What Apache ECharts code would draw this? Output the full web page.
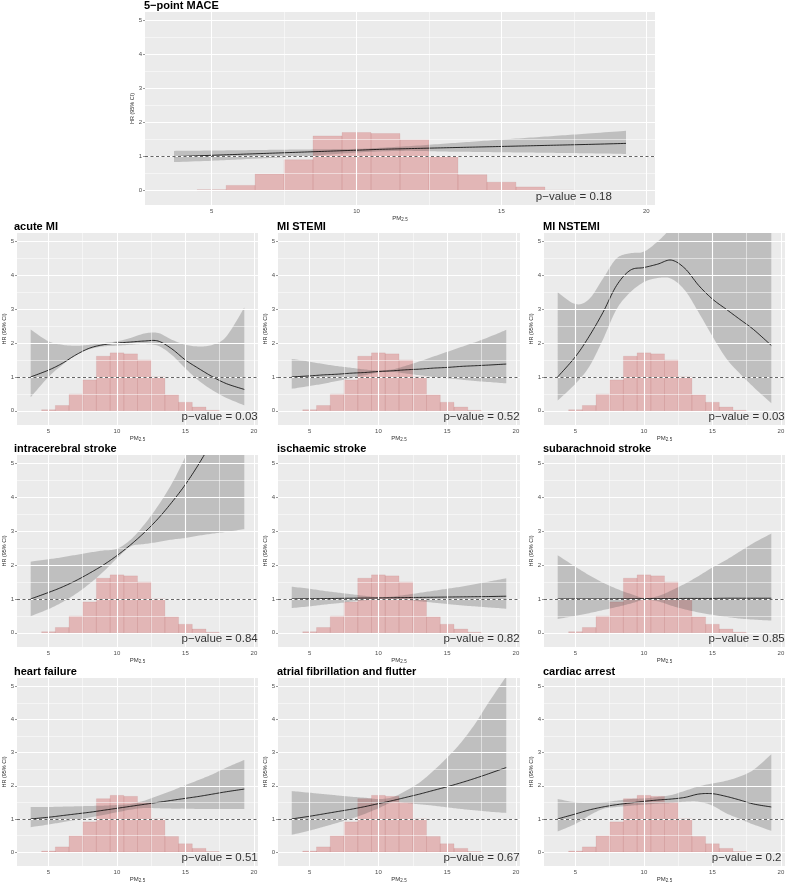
<!DOCTYPE html>
<html><head><meta charset="utf-8">
<script src="https://cdn.jsdelivr.net/npm/echarts@6/dist/echarts.min.js"></script>
<style>html,body{margin:0;padding:0;background:#fff}#c{width:788px;height:884px}</style>
</head><body><div id="c"></div>
<script>
// ---------- data ----------
const titles = ['5\u2212point MACE','acute MI','MI STEMI','MI NSTEMI','intracerebral stroke','ischaemic stroke','subarachnoid stroke','heart failure','atrial fibrillation and flutter','cardiac arrest'];
const pValues = ['0.18','0.03','0.52','0.03','0.84','0.82','0.85','0.51','0.67','0.2'];
const xTicks = [5,10,15,20];
const xMinor = [7.5,12.5,17.5];
const yTicks = [0,1,2,3,4,5];
const yMinor = [0.5,1.5,2.5,3.5,4.5];
const pm25 = [3.7,5,6,7,8,9,10,11,12,13,14,15,16,17,18,19.3];
const histBins = [5,6,7,8,9,10,11,12,13,14,15,16,17];
const histHeights = [0.03,0.155,0.49,0.91,1.61,1.71,1.68,1.5,1.0,0.47,0.25,0.11,0.015];

const maceFit   = [1.0,1.04,1.07,1.1,1.13,1.16,1.19,1.22,1.24,1.26,1.28,1.3,1.32,1.34,1.36,1.39];
const maceLower = [0.84,0.88,0.92,0.96,1.0,1.06,1.12,1.16,1.17,1.15,1.14,1.13,1.12,1.11,1.1,1.08];
const maceUpper = [1.17,1.18,1.19,1.2,1.21,1.22,1.23,1.27,1.32,1.38,1.44,1.5,1.56,1.62,1.68,1.76];

const acuteFit   = [1.0,1.2,1.4,1.65,1.85,1.95,2.0,2.03,2.06,2.06,1.83,1.5,1.24,1.0,0.8,0.63];
const acuteLower = [0.4,1.0,1.35,1.65,1.82,1.9,1.92,1.95,1.97,1.92,1.65,1.25,0.88,0.6,0.38,0.16];
const acuteUpper = [2.4,2.05,1.95,1.92,1.95,2.0,2.05,2.15,2.28,2.3,2.1,1.95,1.9,1.95,2.2,3.05];

const stemiFit   = [1.0,1.03,1.06,1.08,1.11,1.13,1.16,1.18,1.21,1.23,1.26,1.28,1.31,1.33,1.35,1.38];
const stemiLower = [0.65,0.73,0.8,0.88,0.96,1.05,1.13,1.15,1.1,1.05,1.0,0.96,0.92,0.88,0.85,0.81];
const stemiUpper = [1.53,1.45,1.38,1.32,1.27,1.22,1.19,1.22,1.33,1.46,1.6,1.74,1.88,2.02,2.17,2.39];

const nstemiFit   = [1.0,1.6,2.2,2.9,3.7,4.15,4.23,4.33,4.45,4.2,3.7,3.3,3.0,2.7,2.4,1.93];
const nstemiLower = [0.3,0.8,1.3,2.1,3.0,3.5,3.8,3.92,3.9,3.55,2.9,2.2,1.55,1.1,0.7,0.22];
const nstemiUpper = [3.5,3.15,3.3,3.9,4.5,4.65,4.7,5.0,5.4,5.8,6.2,6.6,7.0,7.5,8.0,9.0];

const icFit   = [1.0,1.19,1.35,1.54,1.76,2.0,2.28,2.6,2.96,3.37,3.85,4.38,5.0,5.7,6.5,7.7];
const icLower = [0.49,0.7,0.9,1.15,1.45,1.8,2.2,2.55,2.62,2.68,2.75,2.8,2.87,2.93,2.98,3.06];
const icUpper = [2.1,2.17,2.23,2.3,2.37,2.43,2.48,2.75,3.2,3.75,4.4,5.2,6.1,7.2,8.5,10.0];

const isFit   = [1.0,1.005,1.01,1.015,1.02,1.025,1.03,1.035,1.04,1.045,1.05,1.055,1.06,1.065,1.07,1.08];
const isLower = [0.73,0.78,0.83,0.87,0.92,0.96,1.0,1.0,0.97,0.93,0.89,0.85,0.81,0.78,0.75,0.71];
const isUpper = [1.36,1.3,1.24,1.19,1.14,1.09,1.05,1.07,1.12,1.18,1.24,1.3,1.36,1.43,1.51,1.61];

const sahFit   = [1.0,1.0,1.0,1.0,1.005,1.005,1.01,1.01,1.01,1.015,1.015,1.015,1.02,1.02,1.02,1.02];
const sahLower = [0.41,0.5,0.58,0.67,0.76,0.86,0.97,0.93,0.8,0.69,0.6,0.53,0.47,0.42,0.39,0.36];
const sahUpper = [2.29,1.95,1.7,1.48,1.3,1.15,1.03,1.08,1.25,1.45,1.68,1.93,2.15,2.4,2.65,2.93];

const hfFit   = [1.0,1.05,1.1,1.15,1.2,1.26,1.32,1.38,1.44,1.5,1.56,1.62,1.68,1.75,1.82,1.9];
const hfLower = [0.75,0.83,0.9,0.97,1.04,1.12,1.2,1.28,1.33,1.32,1.31,1.31,1.3,1.3,1.3,1.3];
const hfUpper = [1.36,1.36,1.37,1.38,1.39,1.4,1.42,1.45,1.55,1.7,1.85,2.02,2.18,2.35,2.55,2.78];

const afFit   = [1.0,1.08,1.15,1.22,1.29,1.37,1.46,1.55,1.65,1.75,1.86,1.97,2.09,2.22,2.36,2.55];
const afLower = [0.52,0.65,0.76,0.88,1.0,1.15,1.32,1.5,1.48,1.44,1.4,1.35,1.3,1.26,1.22,1.18];
const afUpper = [1.84,1.79,1.75,1.71,1.67,1.64,1.6,1.65,1.85,2.1,2.45,2.85,3.3,3.85,4.5,5.3];

const caFit   = [1.0,1.15,1.27,1.36,1.43,1.48,1.53,1.57,1.6,1.65,1.75,1.76,1.68,1.57,1.45,1.36];
const caLower = [0.62,0.85,1.1,1.3,1.36,1.4,1.43,1.46,1.48,1.52,1.52,1.4,1.17,1.0,0.83,0.64];
const caUpper = [1.6,1.5,1.48,1.5,1.55,1.6,1.62,1.66,1.72,1.85,1.98,2.07,2.15,2.28,2.48,2.95];

// ---------- layout ----------
const FONT = '"Liberation Sans", Arial, Helvetica, sans-serif';
const X_MIN = 2.7, X_MAX = 20.3, Y_MIN = -0.42, Y_MAX = 5.25;
const PV_X = 17.5, PV_Y = -0.17;
const BIN_W = 1;
const SUB = 10;
const rowTops = [233, 455, 678];
const colLefts = [15, 278, 544];
const colWidths = [243, 242, 241];
const PH = 192;

const fits = [maceFit, acuteFit, stemiFit, nstemiFit, icFit, isFit, sahFit, hfFit, afFit, caFit];
const lowers = [maceLower, acuteLower, stemiLower, nstemiLower, icLower, isLower, sahLower, hfLower, afLower, caLower];
const uppers = [maceUpper, acuteUpper, stemiUpper, nstemiUpper, icUpper, isUpper, sahUpper, hfUpper, afUpper, caUpper];

// smooth (Catmull-Rom) path through pixel points produced by the axes
function spline(pts) {
  const out = [];
  const n = pts.length;
  for (let i = 0; i < n - 1; i++) {
    const p0 = pts[Math.max(i - 1, 0)], p1 = pts[i], p2 = pts[i + 1], p3 = pts[Math.min(i + 2, n - 1)];
    for (let s = 0; s < SUB; s++) {
      const t = s / SUB, t2 = t * t, t3 = t2 * t;
      out.push([0, 1].map(k => 0.5 * ((2 * p1[k]) + (-p0[k] + p2[k]) * t +
        (2 * p0[k] - 5 * p1[k] + 4 * p2[k] - p3[k]) * t2 + (-p0[k] + 3 * p1[k] - 3 * p2[k] + p3[k]) * t3)));
    }
  }
  out.push(pts[n - 1]);
  return out;
}

const rects = [[145, 12, 510, 193]];
for (let r = 0; r < 3; r++) for (let c = 0; c < 3; c++) rects.push([colLefts[c], rowTops[r], colWidths[c], PH]);

const grid = [], xAxis = [], yAxis = [], series = [], title = [];
rects.forEach((rc, i) => {
  grid.push({left: rc[0], top: rc[1], width: rc[2], height: rc[3], show: true, backgroundColor: '#EBEBEB', borderWidth: 0, containLabel: false});
  title.push({text: titles[i], left: rc[0] - 1, top: rc[1] - 12, padding: 0,
    textStyle: {fontFamily: FONT, fontSize: 11, fontWeight: 'bold', color: '#000'}});
  xAxis.push({gridIndex: i, type: 'value', min: X_MIN, max: X_MAX,
    axisLine: {show: false}, splitLine: {show: false},
    axisTick: {show: true, customValues: xTicks, length: 2, lineStyle: {color: '#333', width: 0.5}},
    axisLabel: {customValues: xTicks, fontSize: 6, color: '#4d4d4d', margin: 3, fontFamily: FONT},
    name: '{a|PM}{b|2.5}', nameLocation: 'middle', nameGap: 9, nameMoveOverlap: false,
    nameTextStyle: {fontFamily: FONT, rich: {a: {fontSize: 6, color: '#333', fontFamily: FONT}, b: {fontSize: 4.5, color: '#333', fontFamily: FONT, padding: [3, 0, 0, 0]}}}
  });
  yAxis.push({gridIndex: i, type: 'value', min: Y_MIN, max: Y_MAX,
    axisLine: {show: false}, splitLine: {show: false},
    axisTick: {show: true, customValues: yTicks, length: 2, lineStyle: {color: '#333', width: 0.5}},
    axisLabel: {customValues: yTicks, fontSize: 6, color: '#4d4d4d', margin: 3, fontFamily: FONT},
    name: 'HR (95% CI)', nameLocation: 'middle', nameGap: 10, nameRotate: 90, nameMoveOverlap: false,
    nameTextStyle: {fontSize: 5.5, color: '#333', fontFamily: FONT}
  });
  const gl = [];
  xMinor.forEach(v => gl.push({xAxis: v, lineStyle: {color: '#fff', width: 0.5, type: 'solid'}}));
  yMinor.forEach(v => gl.push({yAxis: v, lineStyle: {color: '#fff', width: 0.5, type: 'solid'}}));
  xTicks.forEach(v => gl.push({xAxis: v, lineStyle: {color: '#fff', width: 1.1, type: 'solid'}}));
  yTicks.forEach(v => gl.push({yAxis: v, lineStyle: {color: '#fff', width: 1.1, type: 'solid'}}));
  series.push({type: 'line', xAxisIndex: i, yAxisIndex: i, data: [], z: 1, silent: true,
    markLine: {silent: true, symbol: ['none', 'none'], animation: false, label: {show: false}, emphasis: {disabled: true}, data: gl}});
  // histogram of exposure
  series.push({type: 'custom', xAxisIndex: i, yAxisIndex: i, z: 2, silent: true, clip: true,
    data: histBins.map((b, j) => [b, histHeights[j]]),
    renderItem: (params, api) => {
      const x = api.value(0), h = api.value(1);
      const p0 = api.coord([x - BIN_W / 2, h]);
      const p1 = api.coord([x + BIN_W / 2, 0]);
      return {type: 'rect', shape: {x: p0[0], y: p0[1], width: p1[0] - p0[0], height: p1[1] - p0[1]},
        style: {fill: 'rgba(205,60,60,0.3)', stroke: 'rgba(175,80,80,0.22)', lineWidth: 0.5}};
    }
  });
  // confidence ribbon
  const lo = lowers[i], up = uppers[i];
  series.push({type: 'custom', xAxisIndex: i, yAxisIndex: i, z: 3, silent: true, clip: true,
    data: pm25.map((v, j) => [v, lo[j], up[j]]),
    encode: {x: 0, y: [1, 2]},
    renderItem: (params, api) => {
      if (params.dataIndex !== 0) return null;
      const top = spline(pm25.map((v, j) => api.coord([v, up[j]])));
      const bot = spline(pm25.map((v, j) => api.coord([v, lo[j]]))).reverse();
      return {type: 'polygon', shape: {points: top.concat(bot)},
        style: {fill: 'rgba(80,80,80,0.28)', stroke: null}};
    }
  });
  // fitted HR curve
  const ft = fits[i];
  series.push({type: 'custom', xAxisIndex: i, yAxisIndex: i, z: 4, silent: true, clip: true,
    data: pm25.map((v, j) => [v, ft[j]]),
    renderItem: (params, api) => {
      if (params.dataIndex !== 0) return null;
      return {type: 'polyline', shape: {points: spline(pm25.map((v, j) => api.coord([v, ft[j]])))},
        style: {stroke: '#000', lineWidth: 0.8, fill: null}};
    }
  });
  // reference line HR = 1
  series.push({type: 'line', xAxisIndex: i, yAxisIndex: i, data: [], z: 5, silent: true,
    markLine: {silent: true, symbol: ['none', 'none'], animation: false, label: {show: false},
      data: [{yAxis: 1, lineStyle: {color: '#222', width: 0.7, type: [3, 2.5]}}]}});
  series.push({type: 'scatter', xAxisIndex: i, yAxisIndex: i, z: 6, silent: true,
    data: [[PV_X, PV_Y]], symbolSize: 1, itemStyle: {color: 'transparent'},
    label: {show: true, position: 'inside', formatter: 'p\u2212value = ' + pValues[i],
      fontFamily: FONT, fontSize: 11.5, color: '#000'}});
});

const chart = echarts.init(document.getElementById('c'), null, {renderer: 'canvas'});
chart.setOption({animation: false, backgroundColor: '#fff', title, grid, xAxis, yAxis, series});
</script></body></html>
